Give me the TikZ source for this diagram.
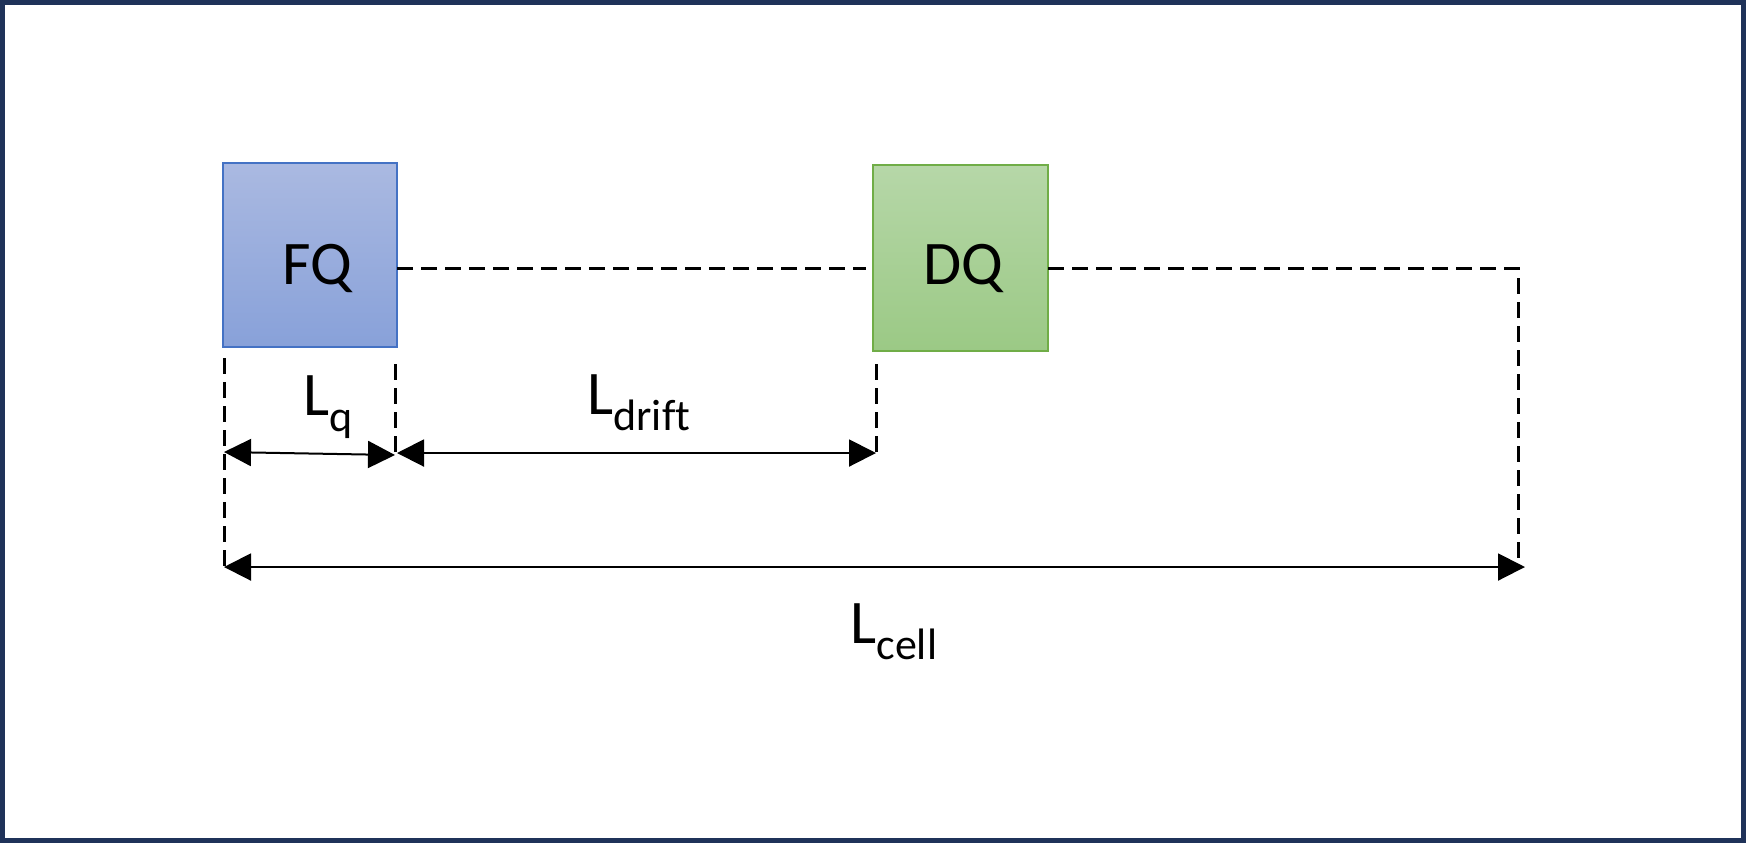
\documentclass[tikz,border=0pt]{standalone}
\usepackage{fontspec}
\setmainfont{Carlito}[Ligatures=CommonOff, RawFeature={-liga;-dlig;-clig}]
\usetikzlibrary{arrows.meta}
\definecolor{framecol}{HTML}{1F3259}
\definecolor{fqtop}{HTML}{AAB9E1}
\definecolor{fqbot}{HTML}{88A1D9}
\definecolor{fqedge}{HTML}{4472C4}
\definecolor{dqtop}{HTML}{B6D7A8}
\definecolor{dqbot}{HTML}{9BC985}
\definecolor{dqedge}{HTML}{70AD47}
\newcommand{\bigtxt}{\fontsize{31}{37}\selectfont}
\newcommand{\subtxt}[1]{\raisebox{-8pt}{\fontsize{22}{26}\selectfont #1}}
\begin{document}
\begin{tikzpicture}[x=0.5pt,y=-0.5pt,
  quadbox/.style={draw, line width=1pt, minimum width=87pt, minimum height=92pt, inner sep=0pt},
  dashline/.style={line width=1.5pt, dash pattern=on 8pt off 4pt},
  dimline/.style={line width=1pt, {Triangle[length=13.5pt,width=13.5pt]}-{Triangle[length=13.5pt,width=13.5pt]}, shorten <=0pt, shorten >=0pt},
  txt/.style={inner sep=0pt, font=\bigtxt}
]
\useasboundingbox (0,0) rectangle (1746,843);
\draw[framecol, line width=2.5pt] (2.5,2.5) rectangle (1743.5,840.5);

% boxes
\node[quadbox, draw=fqedge, top color=fqtop, bottom color=fqbot] (FQ) at (310,255) {};
\node[quadbox, draw=dqedge, top color=dqtop, bottom color=dqbot, minimum width=87.5pt, minimum height=93pt] (DQ) at (960.5,258) {};
\node[txt] (fqt) at (317,268) {FQ};
\node[txt] (dqt) at (963,268) {DQ};

% coordinates
\coordinate (fqr) at (397,268);
\coordinate (dql) at (866,268);
\coordinate (dqr) at (1048,268);
\coordinate (corner) at (1518,268);
\coordinate (cellR) at (1518,567);
\coordinate (aL1) at (224,358);
\coordinate (aL2) at (224,567);
\coordinate (b1) at (395,364);
\coordinate (b2) at (395,455);
\coordinate (c1) at (876,364);
\coordinate (c2) at (876,453);
\coordinate (lqL) at (224,452);
\coordinate (lqR) at (395,455);
\coordinate (drL) at (397,453);
\coordinate (drR) at (876,453);
\coordinate (ceL) at (224,567);
\coordinate (ceR) at (1525,567);

% dashed lines
\draw[dashline] (fqr) -- (dql);
\draw[dashline] (dqr) -- (corner) -- (cellR);
\draw[dashline] (aL1) -- (aL2);
\draw[dashline] (b1) -- (b2);
\draw[dashline] (c1) -- (c2);

% dimension arrows
\draw[dimline] (lqL) -- (lqR);
\draw[dimline] (drL) -- (drR);
\draw[dimline] (ceL) -- (ceR);

% labels
\node[txt, anchor=base west] (lq) at (303,415) {L\subtxt{q}};
\node[txt, anchor=base west] (ldrift) at (587,414) {L\subtxt{drif\kern0pt t}};
\node[txt, anchor=base west] (lcell) at (850,643) {L\subtxt{cell}};
\end{tikzpicture}
\end{document}
